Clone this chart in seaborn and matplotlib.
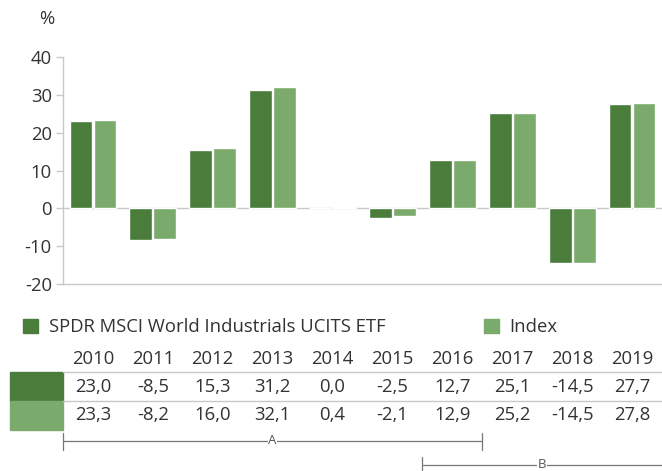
import matplotlib
matplotlib.use("Agg")
import matplotlib.pyplot as plt
import matplotlib.transforms as mtransforms
from matplotlib.patches import Rectangle
from matplotlib.lines import Line2D
import seaborn as sns
import pandas as pd

years = ["2010", "2011", "2012", "2013", "2014", "2015", "2016", "2017", "2018", "2019"]
fund_name = "SPDR MSCI World Industrials UCITS ETF"
index_name = "Index"
fund_values = [23.0, -8.5, 15.3, 31.2, 0.0, -2.5, 12.7, 25.1, -14.5, 27.7]
index_values = [23.3, -8.2, 16.0, 32.1, 0.4, -2.1, 12.9, 25.2, -14.5, 27.8]
fund_labels = ["23,0", "-8,5", "15,3", "31,2", "0,0", "-2,5", "12,7", "25,1", "-14,5", "27,7"]
index_labels = ["23,3", "-8,2", "16,0", "32,1", "0,4", "-2,1", "12,9", "25,2", "-14,5", "27,8"]
yticks = [-20, -10, 0, 10, 20, 30, 40]
brackets = [("A", 0, 6), ("B", 6, 9)]

DARK = "#4a7c3b"
LIGHT = "#7aaa6c"
TXT = "#333333"
GRID = "#c8c8c8"

W, H = 662, 471
sns.set_theme(style="white")
plt.rcParams["font.family"] = ["Open Sans", "DejaVu Sans"]
FS = 13.3

df = pd.DataFrame({
    "year": years * 2,
    "value": fund_values + index_values,
    "series": [fund_name] * len(years) + [index_name] * len(years),
})

fig = plt.figure(figsize=(W / 100, H / 100), dpi=100)
fig.patch.set_facecolor("white")

def fx(px):
    return px / W

def fy(py):
    return 1 - py / H

ax = fig.add_axes([fx(63), fy(284), fx(662) - fx(63), fy(57) - fy(284)])
sns.barplot(data=df, x="year", y="value", hue="series", palette=[DARK, LIGHT],
            width=0.8, gap=0.05, ax=ax, legend=False, saturation=1)
ax.set_xlim(-0.5, len(years) - 0.5)
ax.set_ylim(-20, 40)
ax.set_yticks(yticks)
ax.set_yticklabels([str(t) for t in yticks], fontsize=FS, color=TXT)
ax.set_xticks([])
ax.set_xlabel("")
ax.set_ylabel("")
for s in ["top", "right"]:
    ax.spines[s].set_visible(False)
ax.spines["left"].set_color(GRID)
ax.spines["bottom"].set_color(GRID)
ax.spines["left"].set_linewidth(1)
ax.spines["bottom"].set_linewidth(1)
ax.tick_params(axis="y", direction="out", length=5, width=1, color=GRID, pad=3, left=True)
ax.axhline(0, color=GRID, lw=1, zorder=0.5)
fig.text(fx(47), fy(19), "%", fontsize=FS, color=TXT, ha="center", va="center")

# Legend
handles = [Rectangle((0, 0), 1, 1, color=DARK), Rectangle((0, 0), 1, 1, color=LIGHT)]
leg = fig.legend(handles, [fund_name, index_name], loc="center left",
                 bbox_to_anchor=(fx(16), fy(327)), ncol=2, frameon=False,
                 fontsize=FS, handlelength=0.8, handleheight=0.8, handletextpad=0.6,
                 columnspacing=5.3, labelcolor=TXT, borderaxespad=0, borderpad=0.4)

# Table
bt = mtransforms.blended_transform_factory(ax.transData, fig.transFigure)
for i, y in enumerate(years):
    ax.text(i, fy(359), y, transform=bt, ha="center", va="center", fontsize=FS, color=TXT, clip_on=False)
    ax.text(i, fy(387), fund_labels[i], transform=bt, ha="center", va="center", fontsize=FS, color=TXT, clip_on=False)
    ax.text(i, fy(415), index_labels[i], transform=bt, ha="center", va="center", fontsize=FS, color=TXT, clip_on=False)

x_left = -0.5
x_right = len(years) - 0.5
for py in (372, 401):
    fig.add_artist(Line2D([fx(63), fx(662)], [fy(py), fy(py)], color=GRID, lw=1))
sw_left = x_left - 53 / 60
for (py0, py1, c) in [(372, 401, DARK), (401, 430, LIGHT)]:
    r = Rectangle((sw_left, fy(py1)), x_left - sw_left, fy(py0) - fy(py1), transform=bt,
                  color=c, clip_on=False)
    ax.add_artist(r)

# Brackets
BR = "#777777"
for k, (lab, i0, i1) in enumerate(brackets):
    x0, x1 = i0 - 0.5, i1 + 0.5
    if k == 0:
        yl, yt0, yt1 = 441, 433, 450
        ends = [x0, x1]
    else:
        yl, yt0, yt1 = 465, 457, 471
        ends = [x0]
    ax.add_artist(Line2D([x0, x1], [fy(yl), fy(yl)], transform=bt, color=BR, lw=0.9, clip_on=False))
    for xe in ends:
        ax.add_artist(Line2D([xe, xe], [fy(yt0), fy(yt1)], transform=bt, color=BR, lw=0.9, clip_on=False))
    ax.text((x0 + x1) / 2, fy(yl), lab, transform=bt, ha="center", va="center", fontsize=9.5,
            color="#555555", clip_on=False,
            bbox=dict(facecolor="white", edgecolor="none", pad=0.5))

fig.savefig("out.png", dpi=100, facecolor="white")
